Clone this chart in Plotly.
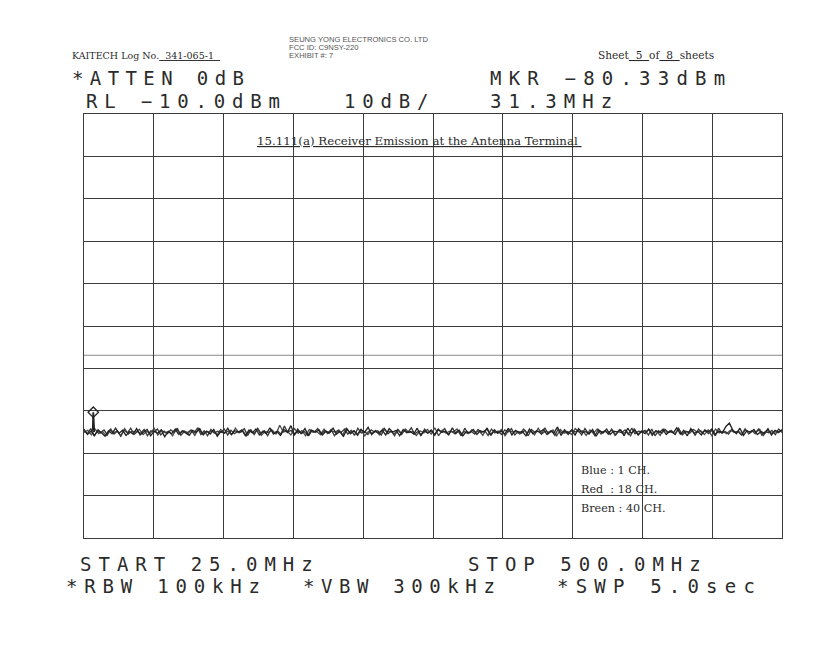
import numpy as np
import plotly.graph_objects as go

# ---------------- data ----------------
START_MHZ = 25.0
STOP_MHZ = 500.0
REF_LEVEL_DBM = -10.0
DB_PER_DIV = 10.0
N_DIV = 10
MARKER_FREQ_MHZ = 31.3
MARKER_LEVEL_DBM = -80.33
EXTRA_LINE_DBM = [-66.9]

SPIKE_FREQ_MHZ = [30.6, 31.0, 31.3, 31.6, 32.0]
SPIKE_LEVEL_DBM = [-84.7, -84.2, -80.33, -84.3, -85.0]

# channel 1 (blue) sweep
TRACE_CH1_DBM = [
    -84.3, -85.6, -84.8, -85.9, -84.5, -85.2, -86.0, -84.7, -85.4, -84.1,
    -85.3, -84.6, -85.8, -84.9, -85.5, -84.2, -85.7, -85.0, -84.4, -85.9,
    -84.8, -85.3, -84.5, -86.1, -84.9, -85.4, -84.3, -85.6, -84.7, -85.2,
    -85.8, -84.6, -85.1, -84.2, -85.7, -84.8, -85.5, -84.4, -86.0, -84.9,
    -85.3, -84.1, -85.6, -84.7, -85.0, -84.5, -85.9, -84.6, -85.2, -84.3,
    -85.7, -84.8, -85.4, -84.0, -85.5, -84.9, -85.8, -84.4, -85.1, -83.5,
    -85.6, -84.7, -85.3, -84.2, -85.9, -84.6, -85.0, -84.5, -85.7, -84.8,
    -85.2, -84.1, -85.5, -84.9, -86.0, -84.3, -85.4, -84.7, -85.8, -84.4,
    -85.1, -83.9, -85.6, -84.8, -85.3, -84.5, -85.7, -84.2, -85.0, -84.6,
    -85.9, -84.4, -85.2, -84.9, -85.5, -84.1, -85.8, -84.7, -85.3, -84.5,
    -85.6, -84.3, -85.1, -84.8, -85.7, -84.0, -85.4, -84.6, -85.9, -84.9,
    -85.2, -84.4, -85.6, -84.7, -85.0, -84.2, -85.8, -84.5, -85.3, -84.8,
    -85.5, -84.1, -85.7, -84.6, -85.1, -84.9, -85.9, -84.3, -85.4, -84.7,
    -85.0, -84.4, -85.6, -84.8, -85.2, -83.8, -85.8, -84.5, -85.3, -84.6,
    -85.7, -84.2, -85.1, -84.9, -85.5, -84.4, -86.0, -84.7, -85.2, -84.3,
    -85.6, -84.8, -85.0, -84.5, -85.9, -84.1, -85.3, -84.6, -85.7, -84.9,
    -85.4, -84.3, -85.8, -84.7, -85.1, -84.4, -85.6, -84.8, -85.2, -84.0,
    -85.5, -84.6, -85.9, -84.2, -85.3, -84.9, -85.7, -84.5, -85.0, -84.3,
    -85.6, -84.8, -85.2, -83.7, -82.9, -84.6, -85.4, -84.1, -85.8, -84.7,
    -85.1, -84.4, -85.6, -84.9, -85.3, -84.2, -85.7, -84.6, -85.0, -84.5,
]

# channel 18 (red) sweep
TRACE_CH18_DBM = [
    -84.7, -85.4, -84.2, -85.8, -84.9, -85.1, -84.5, -85.7, -84.3, -85.5,
    -84.8, -86.0, -84.6, -85.2, -84.1, -85.6, -84.9, -85.3, -84.4, -85.9,
    -84.7, -85.0, -84.3, -85.7, -84.8, -85.4, -84.5, -85.1, -84.2, -85.8,
    -84.9, -85.5, -84.6, -85.2, -84.0, -85.6, -84.7, -85.9, -84.4, -85.3,
    -84.8, -85.1, -84.3, -85.7, -84.6, -85.4, -84.9, -85.0, -84.2, -85.8,
    -84.5, -85.6, -84.1, -85.3, -84.7, -85.9, -84.4, -85.2, -84.8, -85.5,
    -83.6, -85.1, -84.6, -85.7, -84.3, -85.4, -84.9, -85.8, -84.5, -85.0,
    -84.2, -85.6, -84.7, -85.3, -84.4, -85.9, -84.8, -85.1, -84.3, -85.5,
    -84.6, -85.8, -84.1, -85.2, -84.9, -85.6, -84.5, -85.0, -84.7, -85.7,
    -84.2, -85.4, -84.8, -85.9, -84.4, -85.3, -84.6, -85.1, -84.0, -85.5,
    -84.9, -85.7, -84.3, -85.2, -84.7, -85.8, -84.5, -85.0, -84.2, -85.6,
    -84.8, -85.4, -84.6, -85.9, -84.1, -85.3, -84.9, -85.5, -84.4, -85.1,
    -84.7, -85.8, -84.3, -85.2, -84.8, -85.6, -84.5, -85.0, -84.2, -85.7,
    -84.9, -85.3, -84.6, -85.9, -84.4, -85.1, -84.8, -85.5, -84.0, -85.4,
    -84.7, -85.8, -84.3, -85.2, -84.9, -85.6, -84.5, -85.0, -84.6, -85.7,
    -84.2, -85.3, -84.8, -85.9, -84.4, -85.1, -84.7, -85.5, -84.3, -85.8,
    -84.9, -85.2, -84.5, -85.6, -84.1, -85.4, -84.8, -85.0, -84.6, -85.7,
    -84.3, -85.9, -84.7, -85.3, -84.4, -85.1, -84.9, -85.6, -84.2, -85.5,
    -84.8, -85.0, -84.5, -85.8, -84.3, -85.2, -84.7, -85.4, -84.6, -85.9,
    -84.1, -85.3, -84.9, -85.5, -84.4, -85.1, -84.8, -85.7, -84.5, -85.0,
    -84.7, -85.4, -84.2, -85.8, -84.9, -85.2, -84.6, -85.6, -84.3, -85.1,
]

# channel 40 (green) sweep
TRACE_CH40_DBM = [
    -85.1, -84.6, -85.7, -84.3, -85.4, -84.9, -85.8, -84.5, -85.2, -84.7,
    -85.9, -84.2, -85.5, -84.8, -85.0, -84.4, -85.6, -84.9, -85.3, -84.1,
    -85.7, -84.6, -85.2, -84.8, -85.9, -84.3, -85.4, -84.7, -85.1, -84.5,
    -85.8, -84.2, -85.5, -84.9, -85.0, -84.6, -85.7, -84.4, -85.3, -84.8,
    -85.6, -84.1, -85.2, -84.7, -85.9, -84.5, -85.4, -84.3, -85.8, -84.9,
    -85.1, -84.6, -85.5, -83.4, -85.0, -84.8, -85.7, -84.2, -85.3, -84.7,
    -85.9, -84.4, -85.1, -84.9, -85.6, -84.3, -85.4, -84.8, -85.0, -84.5,
    -85.8, -84.1, -85.2, -84.7, -85.5, -84.4, -85.9, -84.9, -85.3, -84.6,
    -85.7, -84.2, -85.0, -84.8, -85.4, -84.5, -85.6, -84.3, -85.1, -84.9,
    -85.8, -84.7, -85.2, -84.4, -85.5, -84.0, -85.9, -84.6, -85.3, -84.8,
    -85.0, -84.3, -85.7, -84.9, -85.4, -84.5, -85.1, -84.7, -85.8, -84.2,
    -85.6, -84.8, -85.3, -84.4, -85.9, -84.6, -85.0, -84.9, -85.5, -84.3,
    -85.2, -84.7, -85.7, -84.1, -85.4, -84.8, -85.1, -84.5, -85.9, -84.4,
    -85.3, -84.9, -85.6, -84.2, -85.0, -84.7, -85.8, -84.5, -85.2, -84.3,
    -85.5, -84.8, -85.1, -84.6, -85.7, -84.4, -85.3, -84.9, -85.9, -84.2,
    -85.6, -84.7, -85.0, -84.5, -85.4, -84.8, -85.8, -84.3, -85.2, -84.6,
    -85.5, -84.1, -85.7, -84.9, -85.3, -84.4, -85.0, -84.7, -85.6, -84.5,
    -85.9, -84.3, -85.2, -84.8, -85.4, -84.6, -85.1, -84.9, -85.7, -84.2,
    -85.5, -84.7, -85.0, -84.4, -85.8, -84.6, -85.3, -84.9, -85.2, -84.5,
]

HEADER_LEFT = "KAITECH Log No."
LOG_NO = "341-065-1"
COMPANY_LINES = ["SEUNG YONG ELECTRONICS CO. LTD", "FCC ID: C9NSY-220", "EXHIBIT #: 7"]
SHEET_NO = "5"
SHEET_TOTAL = "8"
TITLE = "15.111(a) Receiver Emission at the Antenna Terminal"
LEGEND_LINES = ["Blue : 1 CH.", "Red&nbsp; : 18 CH.", "Breen : 40 CH."]
ATTEN_TEXT = "*ATTEN 0dB"
RL_TEXT = "RL \u221210.0dBm"
SCALE_TEXT = "10dB/"
MKR_TEXT = "MKR \u221280.33dBm"
MKR_FREQ_TEXT = "31.3MHz"
START_TEXT = "START 25.0MHz"
STOP_TEXT = "STOP 500.0MHz"
RBW_TEXT = "*RBW 100kHz"
VBW_TEXT = "*VBW 300kHz"
SWP_TEXT = "*SWP 5.0sec"

# ---------------- layout geometry (page pixels) ----------------
PAGE_W, PAGE_H = 819, 650
OFF = 8                      # default body margin of the html page
FIG_W, FIG_H = PAGE_W - OFF, PAGE_H - OFF
L, R, T, B = 84, 782, 114, 538


def px(x):
    return (x - L) / (R - L)


def py(y):
    return (B - y) / (B - T)


fig = go.Figure()
trace_styles = [(TRACE_CH40_DBM, "#4a4a4a"), (TRACE_CH18_DBM, "#383838"),
                (TRACE_CH1_DBM, "#222222")]
for vals, col in trace_styles:
    f = np.linspace(START_MHZ, STOP_MHZ, len(vals))
    fig.add_trace(go.Scatter(x=f, y=vals, mode="lines",
                             line=dict(color=col, width=1.3), hoverinfo="skip"))
fig.add_trace(go.Scatter(x=SPIKE_FREQ_MHZ, y=SPIKE_LEVEL_DBM, mode="lines",
                         line=dict(color="#222222", width=1.8), hoverinfo="skip"))
fig.add_trace(go.Scatter(x=[MARKER_FREQ_MHZ], y=[MARKER_LEVEL_DBM], mode="markers",
                         marker=dict(symbol="diamond-open", size=8, color="#222222",
                                     line=dict(width=1.3)),
                         hoverinfo="skip"))

bottom = REF_LEVEL_DBM - DB_PER_DIV * N_DIV
grid = "#3c3c3c"
fig.update_xaxes(range=[START_MHZ, STOP_MHZ], tick0=START_MHZ,
                 dtick=(STOP_MHZ - START_MHZ) / N_DIV, showgrid=True,
                 gridcolor=grid, gridwidth=1, showticklabels=False, ticks="",
                 showline=True, mirror=True, linecolor=grid, linewidth=1,
                 zeroline=False, fixedrange=True)
fig.update_yaxes(range=[bottom, REF_LEVEL_DBM], tick0=bottom, dtick=DB_PER_DIV,
                 showgrid=True, gridcolor=grid, gridwidth=1, showticklabels=False,
                 ticks="", showline=True, mirror=True, linecolor=grid, linewidth=1,
                 zeroline=False, fixedrange=True)

for lvl in EXTRA_LINE_DBM:
    fig.add_shape(type="line", xref="paper", x0=0, x1=1, yref="y", y0=lvl, y1=lvl,
                  line=dict(color="#8a8a8a", width=1), layer="below")

ann = []


def add_text(text, x, y, family, size, color="#2b2b2b", spacing=None):
    if spacing is not None:
        text = f'<span style="letter-spacing:{spacing}px">{text}</span>'
    ann.append(dict(text=text, x=px(x), y=py(y), xref="paper", yref="paper",
                    xanchor="left", yanchor="middle", align="left",
                    showarrow=False, font=dict(family=family, size=size, color=color)))


SERIF = "DejaVu Serif"
SANS = "Liberation Sans"
PLOT = "DejaVu Sans Mono"
PS = 19

add_text(f"{HEADER_LEFT}<u>&nbsp;&nbsp;{LOG_NO}&nbsp;&nbsp;</u>", 70, 56, SERIF, 9.5)
for i, line in enumerate(COMPANY_LINES):
    add_text(line, 287, 39.5 + i * 7.8, SANS, 7.6, color="#555555")
add_text(f"Sheet<u>&nbsp;&nbsp;{SHEET_NO}&nbsp;&nbsp;</u>of"
         f"<u>&nbsp;&nbsp;{SHEET_TOTAL}&nbsp;&nbsp;</u>sheets",
         596, 55, SERIF, 10.6)

add_text(ATTEN_TEXT, 70, 78, PLOT, PS, spacing=6.4)
add_text(MKR_TEXT, 488, 78, PLOT, PS, spacing=7.2)
add_text(RL_TEXT, 84, 101, PLOT, PS, spacing=6.8)
add_text(SCALE_TEXT, 342, 101, PLOT, PS, spacing=6.8)
add_text(MKR_FREQ_TEXT, 488, 101, PLOT, PS, spacing=7.0)

add_text(f"<u>{TITLE}&nbsp;</u>", 255, 141, SERIF, 11.8)
for i, line in enumerate(LEGEND_LINES):
    add_text(line, 579, 470 + i * 19, SERIF, 11.2)

add_text(START_TEXT, 78, 564, PLOT, PS, spacing=7.0)
add_text(STOP_TEXT, 466, 564, PLOT, PS, spacing=7.0)
add_text(RBW_TEXT, 64, 586, PLOT, PS, spacing=6.8)
add_text(VBW_TEXT, 301, 586, PLOT, PS, spacing=6.6)
add_text(SWP_TEXT, 555, 586, PLOT, PS, spacing=7.2)

fig.update_layout(width=FIG_W, height=FIG_H,
                  margin=dict(l=L - OFF, r=FIG_W - (R - OFF), t=T - OFF,
                              b=FIG_H - (B - OFF)),
                  paper_bgcolor="white", plot_bgcolor="white", showlegend=False,
                  annotations=ann)

fig.write_html("out.html")
